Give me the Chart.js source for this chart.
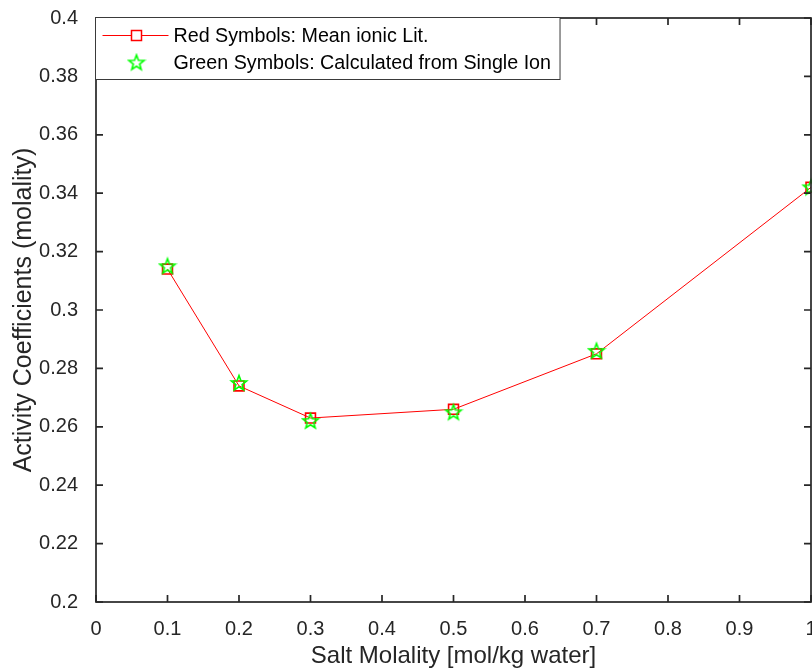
<!DOCTYPE html>
<html>
<head>
<meta charset="utf-8">
<script src="https://cdn.jsdelivr.net/npm/chart.js@4.4.1/dist/chart.umd.min.js"></script>
<style>
  html, body { margin: 0; padding: 0; background: #fff; }
  #wrap { width: 812px; height: 672px; }
</style>
</head>
<body>
<div id="wrap"><canvas id="chart" width="812" height="672"></canvas></div>
<script>
// salt molality (mol/kg water) and activity coefficients
const molality = [0.1, 0.2, 0.3, 0.5, 0.7, 1.0];
const meanIonicLit = [0.314, 0.274, 0.263, 0.266, 0.285, 0.342];
const singleIonCalc = [0.315, 0.275, 0.262, 0.265, 0.286, 0.342];
const seriesNames = ['Red Symbols: Mean ionic Lit.', 'Green Symbols: Calculated from Single Ion'];

const xRange = [0, 1, 0.1];
const yRange = [0.2, 0.4, 0.02];

const xTitle = 'Salt Molality [mol/kg water]';
const yTitle = 'Activity Coefficients (molality)';

const FONT = '"Liberation Sans", Arial, Helvetica, sans-serif';
const axisColor = '#262626';
const tickLen = 7;

// five-pointed star outline, used as point style
function makePentagram(color) {
    const c = document.createElement('canvas');
    c.width = 20; c.height = 20;
    const g = c.getContext('2d');
    const R = 8, r = 3.3, cx = 10, cy = 10.5;
    g.beginPath();
    for (let i = 0; i < 10; i++) {
        const rad = (i % 2 === 0) ? R : r;
        const ang = -Math.PI / 2 + i * Math.PI / 5;
        const px = cx + rad * Math.cos(ang), py = cy + rad * Math.sin(ang);
        if (i === 0) g.moveTo(px, py); else g.lineTo(px, py);
    }
    g.closePath();
    g.strokeStyle = color;
    g.lineWidth = 1.6;
    g.stroke();
    return c;
}
const starImg = makePentagram('#00ff00');

const toPoints = (xs, ys) => xs.map((v, i) => ({ x: v, y: ys[i] }));
const fmt = v => String(Number(v.toFixed(2)));

function fixedTicks(range) {
    return s => {
        s.ticks = [];
        for (let v = range[0]; v <= range[1] + 1e-9; v += range[2]) s.ticks.push({ value: Number(v.toFixed(2)) });
    };
}

// box around the axes with inward ticks on all four sides
const framePlugin = {
    id: 'frame',
    afterDatasetsDraw(chart) {
        const { ctx, chartArea: a, scales: { x, y } } = chart;
        ctx.save();
        ctx.strokeStyle = axisColor;
        ctx.lineWidth = 1.7;
        ctx.beginPath();
        x.ticks.forEach(t => {
            const px = x.getPixelForValue(t.value);
            ctx.moveTo(px, a.bottom); ctx.lineTo(px, a.bottom - tickLen);
            ctx.moveTo(px, a.top); ctx.lineTo(px, a.top + tickLen);
        });
        y.ticks.forEach(t => {
            const py = y.getPixelForValue(t.value);
            ctx.moveTo(a.left, py); ctx.lineTo(a.left + tickLen, py);
            ctx.moveTo(a.right, py); ctx.lineTo(a.right - tickLen, py);
        });
        ctx.stroke();
        ctx.strokeRect(a.left, a.top, a.right - a.left, a.bottom - a.top);
        ctx.restore();
    }
};

// legend box in the upper left corner
const legendBox = {
    id: 'legendBox',
    afterDraw(chart) {
        const { ctx, chartArea: a } = chart;
        const left = Math.round(a.left) - 0.5, top = Math.round(a.top) - 0.5;
        ctx.save();
        ctx.font = '19.7px ' + FONT;
        const textX = left + 78;
        const w = Math.max(...seriesNames.map(s => ctx.measureText(s).width)) + 78 + 9;
        const h = 62;
        ctx.fillStyle = '#fff';
        ctx.fillRect(left, top, w, h);
        ctx.strokeStyle = '#3a3a3a';
        ctx.lineWidth = 1;
        ctx.strokeRect(left, top, w, h);

        const row1 = top + 18, row2 = top + 45.5;
        const mx = left + 41;
        ctx.strokeStyle = '#ff0000';
        ctx.beginPath();
        ctx.moveTo(left + 7, row1); ctx.lineTo(left + 73, row1);
        ctx.stroke();
        ctx.lineWidth = 1.5;
        ctx.fillStyle = '#fff';
        ctx.fillRect(mx - 5, row1 - 5, 10, 10);
        ctx.strokeRect(mx - 5, row1 - 5, 10, 10);
        ctx.drawImage(starImg, mx - 10, row2 - 10.5);

        ctx.fillStyle = '#000';
        ctx.textBaseline = 'middle';
        ctx.fillText(seriesNames[0], textX, row1 + 1);
        ctx.fillText(seriesNames[1], textX, row2 + 1);
        ctx.restore();
    }
};

new Chart(document.getElementById('chart'), {
    type: 'scatter',
    data: {
        datasets: [
            {
                label: seriesNames[0],
                data: toPoints(molality, meanIonicLit),
                showLine: true,
                borderColor: '#ff0000',
                borderWidth: 1,
                pointStyle: 'rect',
                pointRadius: 7,
                pointBorderWidth: 1.6,
                pointBorderColor: '#ff0000',
                pointBackgroundColor: 'rgba(0,0,0,0)',
                clip: false,
                order: 2
            },
            {
                label: seriesNames[1],
                data: toPoints(molality, singleIonCalc),
                showLine: false,
                pointStyle: starImg,
                clip: false,
                order: 1
            }
        ]
    },
    options: {
        responsive: false,
        devicePixelRatio: 1,
        animation: false,
        events: [],
        layout: { autoPadding: false, padding: { top: 18, right: 1, left: 0, bottom: 0 } },
        plugins: { legend: { display: false }, tooltip: { enabled: false } },
        scales: {
            x: {
                type: 'linear',
                min: xRange[0], max: xRange[1],
                afterBuildTicks: fixedTicks(xRange),
                afterFit: s => { s.height = 70; s.paddingLeft = 0; s.paddingRight = 0; },
                grid: { display: false },
                border: { display: false },
                ticks: { color: axisColor, padding: 7, maxRotation: 0, font: { family: FONT, size: 20 }, callback: fmt },
                title: { display: true, text: xTitle, color: axisColor, padding: { top: 0, bottom: 1 }, font: { family: FONT, size: 24 } }
            },
            y: {
                min: yRange[0], max: yRange[1],
                afterBuildTicks: fixedTicks(yRange),
                afterFit: s => { s.width = 96; s.paddingTop = 0; s.paddingBottom = 0; },
                grid: { display: false },
                border: { display: false },
                ticks: { color: axisColor, padding: 10, font: { family: FONT, size: 20 }, callback: fmt },
                title: { display: true, text: yTitle, color: axisColor, padding: { top: 9, bottom: 0 }, font: { family: FONT, size: 25 } }
            }
        }
    },
    plugins: [framePlugin, legendBox]
});
</script>
</body>
</html>
